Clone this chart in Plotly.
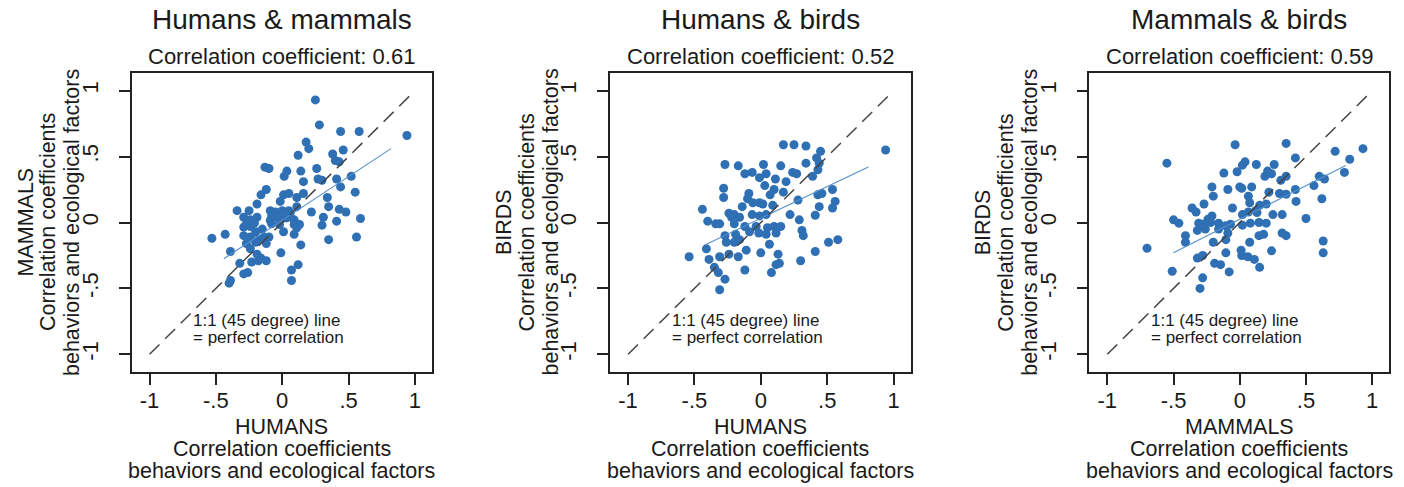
import numpy as np
import plotly.graph_objects as go

W, H = 1404, 487

# ---------------- data ----------------
panel_titles = ["Humans &amp; mammals", "Humans &amp; birds", "Mammals &amp; birds"]
corr_values = ["0.61", "0.52", "0.59"]
x_names = ["HUMANS", "HUMANS", "MAMMALS"]
y_names = ["MAMMALS", "BIRDS", "BIRDS"]
tick_vals = [-1, -0.5, 0, 0.5, 1]
tick_text = ["-1", "-.5", "0", ".5", "1"]
diag = [-1, 1]

# Humans (x) vs mammals (y)
hm_x = [0.25, 0.28, 0.44, 0.58, 0.94, 0.18, 0.20, 0.12, 0.38, 0.46,
        0.40, 0.43, -0.13, -0.10, 0.035, 0.14, 0.26, 0.015, 0.16, 0.27,
        0.30, 0.41, 0.52, 0.44, -0.12, -0.16, 0.01, 0.11, 0.16, 0.05,
        0.55, 0.34, -0.19, -0.015, 0.11, 0.35, -0.34, -0.25, -0.29, -0.19,
        -0.09, -0.05, 0.0, 0.05, 0.22, 0.43, 0.48, -0.04, 0.035, 0.09,
        0.31, 0.41, 0.59, 0.30, -0.08, -0.02, 0.12, -0.29, -0.24, -0.20,
        0.01, 0.09, -0.53, -0.43, -0.29, -0.24, -0.14, 0.56, 0.35, -0.27,
        -0.20, -0.12, 0.14, -0.39, -0.24, -0.19, -0.01, -0.32, -0.23, -0.16,
        -0.12, 0.12, 0.07, -0.29, -0.26, -0.39, -0.40, 0.07, -0.18, -0.27,
        -0.15, -0.09, 0.09, -0.24, -0.21, -0.08, 0.0, 0.06, 0.13, 0.11,
        -0.18, -0.10]
hm_y = [0.93, 0.74, 0.69, 0.69, 0.66, 0.61, 0.56, 0.51, 0.52, 0.55,
        0.47, 0.46, 0.42, 0.41, 0.39, 0.39, 0.41, 0.35, 0.31, 0.33,
        0.32, 0.33, 0.35, 0.27, 0.25, 0.21, 0.21, 0.19, 0.22, 0.22,
        0.23, 0.19, 0.14, 0.16, 0.12, 0.12, 0.09, 0.09, 0.04, 0.04,
        0.09, 0.08, 0.09, 0.09, 0.08, 0.10, 0.08, 0.04, 0.035, 0.02,
        0.04, 0.01, 0.03, -0.02, -0.01, -0.015, -0.015, -0.035, -0.03, -0.07,
        -0.07, -0.09, -0.12, -0.09, -0.10, -0.11, -0.11, -0.11, -0.13, -0.16,
        -0.15, -0.16, -0.17, -0.22, -0.20, -0.24, -0.23, -0.31, -0.30, -0.27,
        -0.29, -0.32, -0.36, -0.39, -0.38, -0.44, -0.46, -0.44, -0.29, -0.01,
        -0.05, 0.015, -0.015, 0.02, -0.005, 0.05, 0.03, 0.07, -0.015, -0.04,
        -0.13, -0.11]

# Humans (x) vs birds (y)
hb_x = [0.17, 0.25, 0.34, 0.94, 0.45, 0.42, 0.44, 0.34, -0.27, -0.17,
        0.02, 0.15, -0.12, -0.065, 0.04, 0.24, 0.27, 0.43, 0.39, -0.01,
        0.11, 0.19, 0.03, -0.28, 0.10, 0.17, 0.54, 0.43, 0.46, -0.28,
        -0.09, -0.10, 0.07, 0.28, -0.44, -0.14, -0.01, 0.015, 0.09, 0.44,
        0.56, 0.54, -0.24, -0.20, -0.16, -0.065, -0.01, 0.04, 0.22, 0.41,
        0.29, -0.40, -0.34, -0.31, -0.20, -0.12, -0.035, 0.05, 0.10, 0.15,
        0.31, -0.19, -0.085, -0.015, 0.04, 0.115, 0.32, -0.27, -0.26, -0.20,
        -0.16, 0.065, 0.51, 0.58, -0.41, -0.24, -0.17, -0.31, -0.11, 0.0,
        0.13, 0.41, -0.54, -0.39, 0.14, 0.30, -0.35, -0.32, -0.27, -0.12,
        0.08, -0.31, 0.115, -0.06, -0.22]
hb_y = [0.59, 0.59, 0.58, 0.55, 0.54, 0.49, 0.45, 0.45, 0.44, 0.43,
        0.44, 0.43, 0.37, 0.38, 0.37, 0.38, 0.37, 0.40, 0.35, 0.34,
        0.33, 0.31, 0.28, 0.26, 0.25, 0.23, 0.25, 0.21, 0.22, 0.19,
        0.22, 0.18, 0.21, 0.17, 0.10, 0.12, 0.15, 0.14, 0.13, 0.12,
        0.16, 0.11, 0.07, 0.06, 0.04, 0.06, 0.05, 0.06, 0.06, 0.055,
        0.02, 0.01, -0.01, -0.01, -0.01, -0.03, -0.03, -0.04, -0.03, -0.03,
        -0.06, -0.09, -0.07, -0.08, -0.09, -0.08, -0.10, -0.10, -0.15, -0.15,
        -0.13, -0.165, -0.15, -0.13, -0.20, -0.24, -0.26, -0.26, -0.21, -0.23,
        -0.24, -0.22, -0.26, -0.28, -0.31, -0.29, -0.34, -0.38, -0.43, -0.36,
        -0.38, -0.51, -0.32, 0.15, 0.04]

# Mammals (x) vs birds (y)
mb_x = [-0.035, 0.35, -0.55, 0.42, 0.72, 0.93, 0.83, 0.79, 0.04, 0.125,
        0.26, 0.02, -0.12, -0.02, 0.21, 0.19, 0.24, 0.35, 0.31, 0.60,
        0.64, 0.56, -0.21, -0.09, 0.0, 0.09, 0.015, 0.42, 0.22, 0.30,
        -0.20, 0.065, 0.35, 0.62, 0.425, -0.27, -0.36, -0.055, 0.075, 0.15,
        0.20, -0.33, -0.21, -0.24, 0.02, 0.065, 0.13, 0.25, 0.32, 0.50,
        -0.50, -0.46, -0.31, -0.22, -0.16, -0.105, -0.07, 0.02, 0.08, 0.145,
        0.20, -0.32, -0.26, -0.16, -0.09, -0.41, 0.145, 0.18, 0.32, 0.35,
        -0.41, -0.20, -0.105, 0.075, 0.63, -0.70, -0.105, 0.01, 0.015, 0.06,
        0.24, 0.63, -0.32, -0.28, 0.11, -0.19, -0.145, -0.08, 0.15, -0.51,
        -0.28, -0.30, -0.28, 0.12]
mb_y = [0.59, 0.60, 0.45, 0.49, 0.54, 0.56, 0.48, 0.38, 0.46, 0.44,
        0.44, 0.435, 0.375, 0.385, 0.39, 0.35, 0.37, 0.35, 0.32, 0.35,
        0.33, 0.28, 0.27, 0.25, 0.27, 0.27, 0.26, 0.25, 0.23, 0.22,
        0.20, 0.20, 0.215, 0.18, 0.16, 0.14, 0.11, 0.11, 0.15, 0.13,
        0.14, 0.08, 0.05, 0.025, 0.06, 0.08, 0.075, 0.06, 0.06, 0.03,
        0.02, -0.005, -0.005, 0.0, -0.005, -0.025, -0.013, -0.02, -0.005, 0.0,
        -0.005, -0.06, -0.05, -0.05, -0.08, -0.10, -0.10, -0.09, -0.08, -0.10,
        -0.15, -0.15, -0.13, -0.15, -0.14, -0.195, -0.23, -0.21, -0.25, -0.26,
        -0.215, -0.23, -0.27, -0.25, -0.28, -0.31, -0.32, -0.375, -0.34, -0.37,
        -0.42, -0.50, -0.013, 0.09]

# linear fit lines: x extent, slope, intercept
fit_x_range = [[-0.44, 0.82], [-0.41, 0.81], [-0.50, 0.80]]
fit_slope = [0.663, 0.48, 0.51]
fit_intercept = [0.017, 0.032, 0.025]

panels_x = [hm_x, hb_x, mb_x]
panels_y = [hm_y, hb_y, mb_y]

# ---------------- layout geometry (pixels) ----------------
frame_left = [131.5, 610.0, 1089.3]
frame_right = [432.0, 910.7, 1389.3]
frame_top, frame_bottom = 73.0, 372.0
FONT = "Liberation Sans, Arial, sans-serif"
TXT = "#1a1a1a"
DOT = "#2f6fb3"
FIT = "#5590cc"


def px(xp):
    return xp / W


def py(yp):
    return 1 - yp / H


fig = go.Figure()
annotations = []
for i in range(3):
    sfx = "" if i == 0 else str(i + 1)
    xa, ya = "x" + sfx, "y" + sfx
    fig.add_trace(go.Scatter(x=panels_x[i], y=panels_y[i], mode="markers",
                             marker=dict(color=DOT, size=9, line=dict(width=0)),
                             xaxis=xa, yaxis=ya, showlegend=False, hoverinfo="skip"))
    fx = np.array(fit_x_range[i])
    fy = fit_slope[i] * fx + fit_intercept[i]
    fig.add_trace(go.Scatter(x=fx, y=fy, mode="lines",
                             line=dict(color=FIT, width=1.1),
                             xaxis=xa, yaxis=ya, showlegend=False, hoverinfo="skip"))
    fig.add_trace(go.Scatter(x=diag, y=diag, mode="lines",
                             line=dict(color="#444444", width=1.5, dash="14px,8px"),
                             xaxis=xa, yaxis=ya, showlegend=False, hoverinfo="skip"))

    axis_common = dict(
        tickmode="array", tickvals=tick_vals, ticktext=tick_text,
        ticks="outside", ticklen=11, tickwidth=1.5, tickcolor="#222",
        showline=True, linecolor="#222", linewidth=1.5, mirror=True,
        showgrid=False, zeroline=False,
        tickfont=dict(family=FONT, size=22, color=TXT),
    )
    xax = dict(axis_common)
    xax.update(range=[-1.136, 1.129], domain=[px(frame_left[i]), px(frame_right[i])],
               anchor=ya, ticklabelstandoff=-3)
    yax = dict(axis_common)
    yax.update(range=[-1.134, 1.134], domain=[py(frame_bottom), py(frame_top)],
               anchor=xa, tickangle=-90, ticklabelstandoff=12)
    fig.update_layout(**{("xaxis" + sfx): xax, ("yaxis" + sfx): yax})

    cx = (frame_left[i] + frame_right[i]) / 2
    # titles
    annotations.append(dict(text=panel_titles[i], x=px(cx), y=py(20), xref="paper", yref="paper",
                            showarrow=False, xanchor="center", yanchor="middle",
                            font=dict(family=FONT, size=28, color=TXT)))
    annotations.append(dict(text="Correlation coefficient: " + corr_values[i], x=px(cx), y=py(56),
                            xref="paper", yref="paper", showarrow=False,
                            xanchor="center", yanchor="middle",
                            font=dict(family=FONT, size=22, color=TXT)))
    # x axis title lines
    for txt, yy in [(x_names[i], 427), ("Correlation coefficients", 449),
                    ("behaviors and ecological factors", 471)]:
        annotations.append(dict(text=txt, x=px(cx), y=py(yy), xref="paper", yref="paper",
                                showarrow=False, xanchor="center", yanchor="middle",
                                font=dict(family=FONT, size=21.5, color=TXT)))
    # y axis title lines
    cy = (frame_top + frame_bottom) / 2
    for txt, off in [(y_names[i], 106.5), ("Correlation coefficients", 84),
                     ("behaviors and ecological factors", 60)]:
        annotations.append(dict(text=txt, x=px(frame_left[i] - off), y=py(cy),
                                xref="paper", yref="paper", textangle=-90,
                                showarrow=False, xanchor="center", yanchor="middle",
                                font=dict(family=FONT, size=21.5, color=TXT)))
    # 1:1 line note
    for txt, yy in [("1:1 (45 degree) line", -0.744), ("= perfect correlation", -0.87)]:
        annotations.append(dict(text=txt, x=-0.686, y=yy, xref=xa, yref=ya,
                                showarrow=False, xanchor="left", yanchor="middle",
                                font=dict(family=FONT, size=17, color=TXT)))

fig.update_layout(
    width=W, height=H,
    margin=dict(l=0, r=0, t=0, b=0),
    paper_bgcolor="white", plot_bgcolor="white",
    annotations=annotations,
    showlegend=False,
)

fig.write_html("out.html",
               config={"displayModeBar": False},
               post_script="document.body.style.margin='0';document.body.style.overflow='hidden';")
